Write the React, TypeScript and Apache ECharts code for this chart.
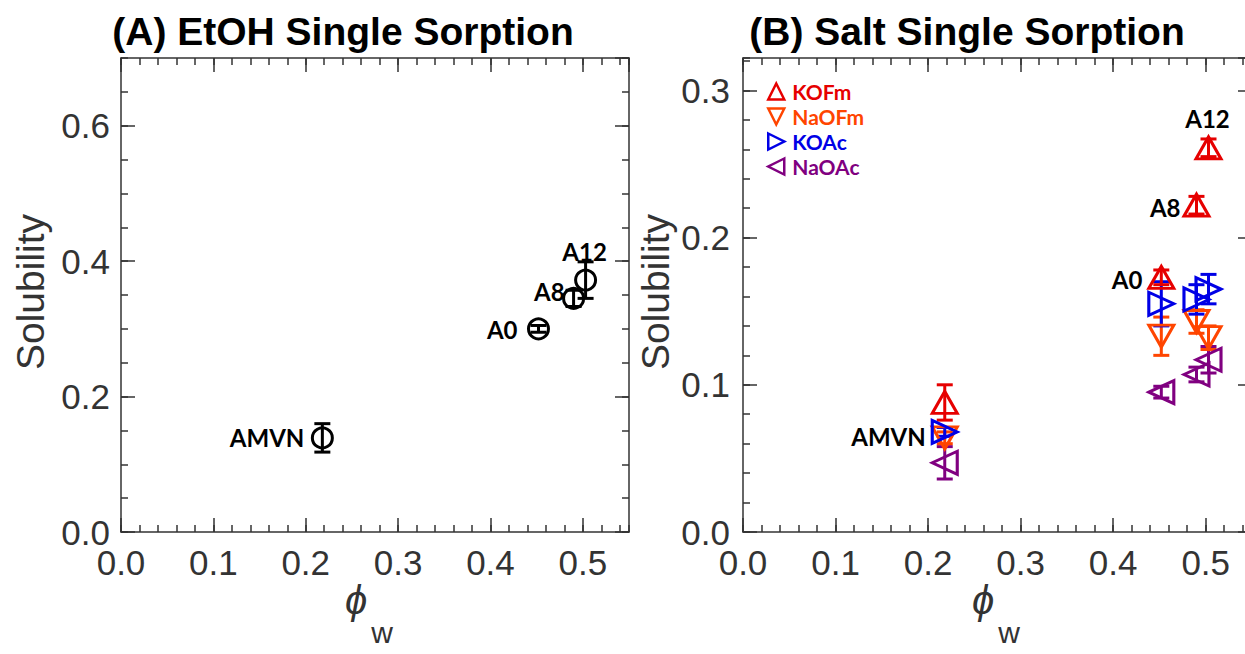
import React, { useEffect, useRef } from 'react';
import * as echarts from 'echarts';

// ---------- data ----------
const pointNames = ['AMVN', 'A0', 'A8', 'A12'];
const phiW = [0.218, 0.452, 0.49, 0.503];

const etohSolubility = [0.139, 0.3, 0.345, 0.372];
const etohError = [0.021, 0.005, 0.012, 0.027];

const kofmSolubility = [0.088, 0.173, 0.222, 0.261];
const kofmError = [0.012, 0.005, 0.006, 0.006];
const naofmSolubility = [0.064, 0.133, 0.143, 0.132];
const naofmError = [0.004, 0.013, 0.008, 0.008];
const koacSolubility = [0.068, 0.155, 0.158, 0.165];
const koacError = [0.003, 0.015, 0.01, 0.01];
const naoacSolubility = [0.047, 0.095, 0.107, 0.117];
const naoacError = [0.011, 0.004, 0.005, 0.009];

const xTickLabels = ['0.0', '0.1', '0.2', '0.3', '0.4', '0.5'];
const yTickLabelsA = ['0.0', '0.2', '0.4', '0.6'];
const yTickLabelsB = ['0.0', '0.1', '0.2', '0.3'];

const saltNames = ['KOFm', 'NaOFm', 'KOAc', 'NaOAc'];

// ---------- styles ----------
const RED = '#e60000';
const ORANGE = '#ff4500';
const BLUE = '#0000e6';
const PURPLE = '#800080';
const AXIS = '#333333';
const SANS = '"Liberation Sans", Arial, sans-serif';
const LABEL_FONT = 'Lato, "Open Sans", sans-serif';

const fmt = (labels: string[]) => (v: number) => {
  const s = v.toFixed(1);
  return labels.indexOf(s) >= 0 && Math.abs(v - parseFloat(s)) < 1e-7 ? s : '';
};

function axis(
  kind: 'x' | 'y',
  gridIndex: number,
  max: number,
  interval: number,
  position: string,
  major: boolean,
  labels?: string[],
  labelMargin = 14
) {
  return {
    type: 'value',
    gridIndex,
    min: 0,
    max,
    interval,
    position,
    axisLine: { show: major, onZero: false, lineStyle: { color: AXIS, width: 1.5 } },
    axisTick: { show: true, inside: true, length: major ? 14 : 7, lineStyle: { color: AXIS, width: 1.5 } },
    axisLabel: labels
      ? {
          show: true,
          formatter: fmt(labels),
          color: AXIS,
          fontSize: 35,
          fontFamily: SANS,
          margin: labelMargin,
          showMaxLabel: false,
        }
      : { show: false },
    splitLine: { show: false },
    minorTick: { show: false },
  };
}

function errorBars(xs: number[], ys: number[], es: number[], color: string, ai: number) {
  return {
    type: 'custom',
    xAxisIndex: ai,
    yAxisIndex: ai,
    silent: true,
    z: 1,
    data: xs.map((x, i) => [x, ys[i], es[i]]),
    encode: { x: 0, y: 1 },
    renderItem: (params: any, api: any) => {
      const x = api.value(0);
      const y = api.value(1);
      const e = api.value(2);
      const t = api.coord([x, y + e]);
      const b = api.coord([x, y - e]);
      const hw = 8;
      const st = { stroke: color, lineWidth: 3 };
      return {
        type: 'group',
        children: [
          { type: 'line', shape: { x1: t[0], y1: t[1], x2: b[0], y2: b[1] }, style: st },
          { type: 'line', shape: { x1: t[0] - hw, y1: t[1], x2: t[0] + hw, y2: t[1] }, style: st },
          { type: 'line', shape: { x1: b[0] - hw, y1: b[1], x2: b[0] + hw, y2: b[1] }, style: st },
        ],
      };
    },
  };
}

const labelStyle = {
  show: true,
  formatter: '{b}',
  color: '#000',
  fontFamily: LABEL_FONT,
  fontWeight: 'bold',
  fontSize: 24,
  position: 'inside',
};

const labelPosA = [
  { offset: [-18, 0], align: 'right' },
  { offset: [-21, 1], align: 'right' },
  { offset: [-9, -7], align: 'right' },
  { offset: [-1, -29], align: 'center' },
];
const labelPosB = [
  { offset: [-19, 34], align: 'right' },
  { offset: [-19, 2], align: 'right' },
  { offset: [-16, 2], align: 'right' },
  { offset: [-1, -29], align: 'center' },
];

function scatter(
  name: string,
  ys: number[],
  color: string,
  symbol: string,
  rotate: number,
  size: number[],
  ai: number,
  labelPos?: any[]
) {
  return {
    type: 'scatter',
    name,
    xAxisIndex: ai,
    yAxisIndex: ai,
    symbol,
    symbolRotate: rotate,
    symbolSize: size,
    z: 2,
    itemStyle: { color: 'rgba(0,0,0,0)', borderColor: color, borderWidth: 3, opacity: 1 },
    emphasis: { disabled: true },
    data: phiW.map((x, i) => {
      const item: any = { value: [x, ys[i]], name: pointNames[i] };
      if (labelPos) item.label = { ...labelStyle, ...labelPos[i] };
      return item;
    }),
    label: { show: !!labelPos },
  };
}

const legendIcons = [
  'path://M5,0L10,10L0,10Z',
  'path://M0,0L10,0L5,10Z',
  'path://M0,0L10,5L0,10Z',
  'path://M10,0L0,5L10,10Z',
];
const saltColors = [RED, ORANGE, BLUE, PURPLE];

export default function App() {
  const ref = useRef<HTMLDivElement>(null);
  useEffect(() => {
    if (!ref.current) return;
    const chart = echarts.init(ref.current, undefined, { renderer: 'svg' });
    const H = 474;
    const grids = [
      { left: 121, top: 58, width: 508, height: H },
      { left: 743, top: 58, width: 509, height: H },
    ];
    const xAxis = [
      axis('x', 0, 0.55, 0.1, 'bottom', true, xTickLabels, 13),
      axis('x', 0, 0.55, 0.02, 'bottom', false),
      axis('x', 0, 0.55, 0.1, 'top', true),
      axis('x', 0, 0.55, 0.02, 'top', false),
      axis('x', 1, 0.55, 0.1, 'bottom', true, xTickLabels, 13),
      axis('x', 1, 0.55, 0.02, 'bottom', false),
      axis('x', 1, 0.55, 0.1, 'top', true),
      axis('x', 1, 0.55, 0.02, 'top', false),
    ];
    const yAxis = [
      axis('y', 0, 0.7, 0.2, 'left', true, yTickLabelsA, 11),
      axis('y', 0, 0.7, 0.05, 'left', false),
      axis('y', 0, 0.7, 0.2, 'right', true),
      axis('y', 0, 0.7, 0.05, 'right', false),
      axis('y', 1, 0.322, 0.1, 'left', true, yTickLabelsB, 13),
      axis('y', 1, 0.322, 0.02, 'left', false),
      axis('y', 1, 0.322, 0.1, 'right', true),
      axis('y', 1, 0.322, 0.02, 'right', false),
    ];

    const series: any[] = [
      errorBars(phiW, etohSolubility, etohError, '#000', 0),
      scatter('EtOH', etohSolubility, '#000', 'circle', 0, [20, 20], 0, labelPosA),
      errorBars(phiW, naoacSolubility, naoacError, PURPLE, 4),
      errorBars(phiW, naofmSolubility, naofmError, ORANGE, 4),
      errorBars(phiW, koacSolubility, koacError, BLUE, 4),
      errorBars(phiW, kofmSolubility, kofmError, RED, 4),
      scatter('NaOAc', naoacSolubility, PURPLE, 'triangle', 90, [23, 25], 4),
      scatter('NaOFm', naofmSolubility, ORANGE, 'triangle', 180, [25, 22], 4),
      scatter('KOAc', koacSolubility, BLUE, 'triangle', -90, [23, 25], 4),
      scatter('KOFm', kofmSolubility, RED, 'triangle', 0, [25, 22], 4, labelPosB),
    ];

    const textEl = (text: string, x: number, y: number, font: string, extra: any = {}) => ({
      type: 'text',
      x,
      y,
      silent: true,
      ...extra,
      style: { text, font, fill: extra.fill || '#000', textAlign: 'center', textVerticalAlign: 'middle' },
    });

    chart.setOption({
      animation: false,
      grid: grids,
      xAxis,
      yAxis,
      series,
      legend: {
        orient: 'vertical',
        left: 767,
        top: 80,
        itemWidth: 16,
        itemHeight: 16,
        itemGap: 2,
        padding: 0,
        selectedMode: false,
        textStyle: {
          fontFamily: LABEL_FONT,
          fontWeight: 'bold',
          fontSize: 21,
          lineHeight: 23,
          padding: [0, 0, 0, 3],
        },
        data: saltNames.map((n, i) => ({
          name: n,
          icon: legendIcons[i],
          textStyle: { color: saltColors[i] },
          itemStyle: { color: 'rgba(0,0,0,0)', borderColor: saltColors[i], borderWidth: 2.5 },
        })),
      },
      graphic: [
        textEl('(A) EtOH Single Sorption', 343, 31, `bold 39px ${SANS}`),
        textEl('(B) Salt Single Sorption', 967, 31, `bold 39px ${SANS}`),
        textEl('Solubility', 30, 292, `39px ${SANS}`, { rotation: Math.PI / 2, fill: AXIS }),
        textEl('Solubility', 655, 292, `39px ${SANS}`, { rotation: Math.PI / 2, fill: AXIS }),
        textEl('\u03d5', 356, 600, `italic 40px ${SANS}`, { fill: AXIS }),
        textEl('w', 382, 632, `30px ${SANS}`, { fill: AXIS }),
        textEl('\u03d5', 983, 600, `italic 40px ${SANS}`, { fill: AXIS }),
        textEl('w', 1009, 632, `30px ${SANS}`, { fill: AXIS }),
      ],
    });
    return () => chart.dispose();
  }, []);

  return (
    <div
      style={{
        position: 'fixed',
        left: 0,
        top: 0,
        width: 1245,
        height: 654,
        overflow: 'hidden',
        background: '#fff',
      }}
    >
      <div ref={ref} style={{ width: 1270, height: 654 }} />
    </div>
  );
}
